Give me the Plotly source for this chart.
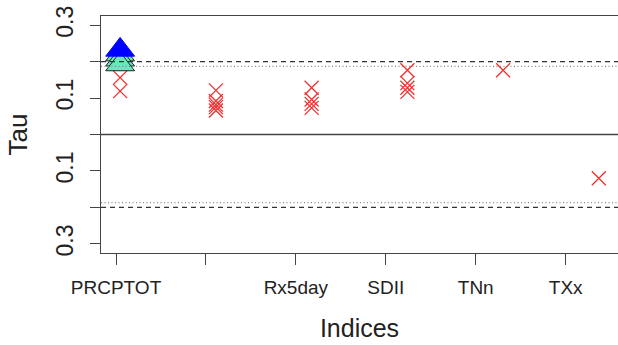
import plotly.graph_objects as go

# ---- data ----
index_labels = ["PRCPTOT", "", "Rx5day", "SDII", "TNn", "TXx"]
label_positions = [0.957, 1.896, 2.835, 3.775, 4.714, 5.654]

# index position (1..6) of each plotted group
cross_x = [1, 1, 2, 2, 2, 2, 2, 3, 3, 3, 3, 4, 4, 4, 4, 5, 6]
cross_tau = [0.156, 0.119,
             0.121, 0.092, 0.082, 0.075, 0.066,
             0.128, 0.096, 0.084, 0.073,
             0.176, 0.141, 0.128, 0.117,
             0.176,
             -0.12]

green_x = [1, 1, 1]
green_tau = [0.219, 0.205, 0.192]
blue_x = [1]
blue_tau = [0.232]

dashed_levels = [0.2, -0.2]
dotted_levels = [0.187, -0.187]

ytick_vals = [-0.3, -0.2, -0.1, 0.0, 0.1, 0.2, 0.3]
ytick_text = ["0.3", "", "0.1", "", "0.1", "", "0.3"]

FONT = "Liberation Sans, Arial, Helvetica, sans-serif"

fig = go.Figure()

fig.add_trace(go.Scatter(
    x=cross_x, y=cross_tau, mode="markers",
    marker=dict(symbol="x-thin-open", size=14, color="#f23030",
                line=dict(color="#f23030", width=1.3)),
    showlegend=False, hoverinfo="skip"))

for xv, yv in zip(green_x, green_tau):
    fig.add_trace(go.Scatter(
        x=[xv], y=[yv], mode="markers",
        marker=dict(symbol="triangle-up", size=25, color="#66e8c0",
                    line=dict(color="#222222", width=1)),
        showlegend=False, hoverinfo="skip"))

fig.add_trace(go.Scatter(
    x=blue_x, y=blue_tau, mode="markers",
    marker=dict(symbol="triangle-up", size=25, color="#0000ff",
                line=dict(color="#0000ff", width=1)),
    showlegend=False, hoverinfo="skip"))

shapes = []
shapes.append(dict(type="line", xref="paper", x0=0, x1=1, yref="y", y0=0, y1=0,
                   line=dict(color="#444444", width=1.6)))
for lv in dashed_levels:
    shapes.append(dict(type="line", xref="paper", x0=0, x1=1, yref="y", y0=lv, y1=lv,
                       line=dict(color="#333333", width=1.3, dash="5px,4px")))
for lv in dotted_levels:
    shapes.append(dict(type="line", xref="paper", x0=0, x1=1, yref="y", y0=lv, y1=lv,
                       line=dict(color="#888888", width=1.3, dash="1px,2.5px")))

fig.update_layout(
    width=618, height=345,
    margin=dict(l=101, r=0, t=16, b=92),
    paper_bgcolor="white", plot_bgcolor="white",
    font=dict(family=FONT, color="#222222"),
    shapes=shapes,
    xaxis=dict(
        range=[0.8, 6.2], tickmode="array", tickvals=label_positions, ticktext=index_labels,
        ticks="outside", ticklen=11, tickwidth=1, tickcolor="#444444",
        ticklabelstandoff=6,
        showgrid=False, zeroline=False, showline=True, linecolor="#444444", linewidth=1.2,
        mirror=True, tickfont=dict(size=19, family=FONT, color="#222222"),
        title=dict(text="Indices", font=dict(size=25, family=FONT, color="#222222"), standoff=22),
    ),
    yaxis=dict(
        range=[-0.325, 0.325], tickmode="array", tickvals=ytick_vals, ticktext=ytick_text,
        ticks="outside", ticklen=10, tickwidth=1, tickcolor="#444444", tickangle=-90,
        ticklabelstandoff=8,
        showgrid=False, zeroline=False, showline=True, linecolor="#444444", linewidth=1.2,
        mirror=True, tickfont=dict(size=23, family=FONT, color="#222222"),
        title=dict(text="Tau", font=dict(size=26, family=FONT, color="#222222"), standoff=16),
    ),
)

fig.write_html("out.html")
